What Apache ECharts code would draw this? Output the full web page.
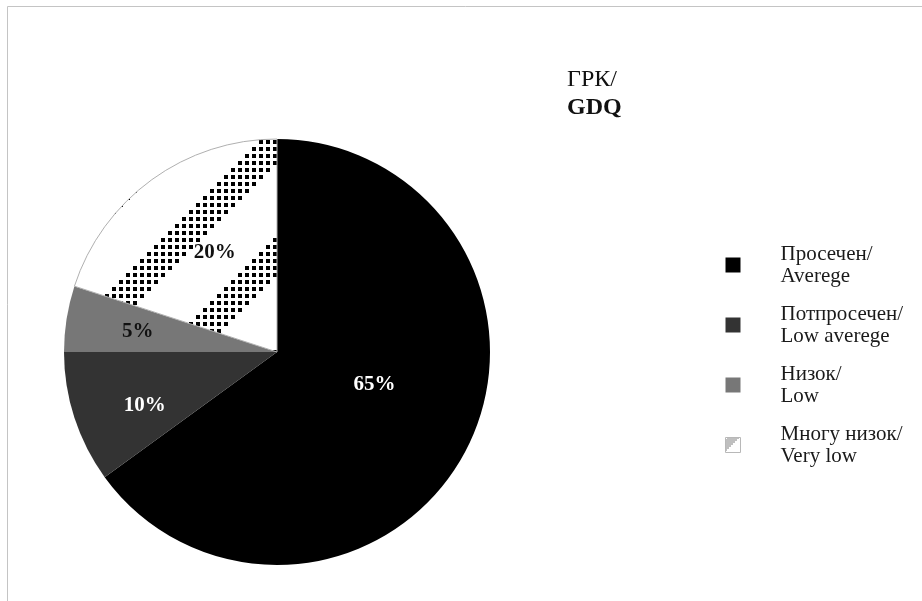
<!DOCTYPE html>
<html>
<head>
<meta charset="utf-8">
<script src="https://cdn.jsdelivr.net/npm/echarts@6/dist/echarts.min.js"></script>
<style>
  html, body { margin: 0; padding: 0; background: #fff; }
  #chart { width: 922px; height: 601px; }
</style>
</head>
<body>
<div id="chart"></div>
<script>
// data
var categories = ['Просечен/\nAverege', 'Потпросечен/\nLow averege', 'Низок/\nLow', 'Многу низок/\nVery low'];
var values = [65, 10, 5, 20];
var sliceColors = ['#000000', '#333333', '#777777', 'pattern'];
var labelColors = ['#ffffff', '#ffffff', '#111111', '#111111'];
// label nudges from the default inside position
var labelOffsets = [[0, -17], [-28, 20], [-31, -3], [2, -11]];
var titleLines = ['ГРК/', 'GDQ'];

var serif = '"Liberation Serif", "Times New Roman", serif';

// dotted diagonal bands (tile, grid step, dot size, band range)
var makePattern = function(size, step, dot, lo, hi) {
	var cv = document.createElement('canvas');
	cv.width = size;
	cv.height = size;
	var ctx = cv.getContext('2d');
	ctx.fillStyle = '#ffffff';
	ctx.fillRect(0, 0, size, size);
	ctx.fillStyle = '#000000';
	var n = size / step;
	for (var i = 0; i < n; i++) {
		for (var j = 0; j < n; j++) {
			var x = i * step, y = j * step;
			var s = (x + y + 2) % size;
			if (s >= lo && s <= hi) {
				ctx.fillRect(x, y, dot, dot);
			}
		}
	}
	return { image: cv, repeat: 'repeat' };
};

var pattern = makePattern(112, 7, 4, 62, 104);
var iconPattern = makePattern(32, 2, 1, 4, 14);

var pieData = categories.map(function(name, i) {
	var isPattern = sliceColors[i] === 'pattern';
	return {
		name: name,
		value: values[i],
		itemStyle: {
			color: isPattern ? pattern : sliceColors[i],
			borderColor: isPattern ? '#b0b0b0' : sliceColors[i],
			borderWidth: isPattern ? 1 : 0
		},
		label: {
			color: labelColors[i],
			offset: labelOffsets[i]
		}
	};
});

var legendData = categories.map(function(name, i) {
	if (sliceColors[i] === 'pattern') {
		return { name: name, itemStyle: { color: iconPattern, borderColor: '#b8b8b8', borderWidth: 1 } };
	}
	return { name: name };
});

var myChart = echarts.init(document.getElementById('chart'));

var option = {
	animation: false,
	backgroundColor: '#ffffff',
	legend: {
		orient: 'vertical',
		left: 725,
		top: 243,
		padding: 0,
		itemWidth: 15,
		itemHeight: 15,
		itemGap: 16,
		icon: 'rect',
		data: legendData,
		textStyle: {
			fontFamily: serif,
			fontSize: 21,
			lineHeight: 22,
			color: '#1a1a1a',
			padding: [0, 0, 0, 35]
		}
	},
	graphic: [{
		type: 'rect',
		silent: true,
		shape: { x: 7.5, y: 6.5, width: 1000, height: 1000 },
		style: { fill: 'none', stroke: '#c4c4c4', lineWidth: 1 }
	}, {
		type: 'text',
		silent: true,
		x: 567,
		y: 80,
		style: {
			text: titleLines[0],
			fontFamily: serif,
			fontSize: 24,
			fontWeight: 'normal',
			fill: '#111',
			verticalAlign: 'middle'
		}
	}, {
		type: 'text',
		silent: true,
		x: 567,
		y: 108,
		style: {
			text: titleLines[1],
			fontFamily: serif,
			fontSize: 24,
			fontWeight: 'bold',
			fill: '#111',
			verticalAlign: 'middle'
		}
	}],
	series: [{
		type: 'pie',
		center: [277, 352],
		radius: [0, 213],
		startAngle: 90,
		clockwise: true,
		avoidLabelOverlap: false,
		label: {
			show: true,
			position: 'inside',
			formatter: '{c}%',
			fontFamily: serif,
			fontSize: 21,
			fontWeight: 'bold'
		},
		labelLine: { show: false },
		emphasis: { disabled: true },
		data: pieData
	}]
};

myChart.setOption(option);
</script>
</body>
</html>
